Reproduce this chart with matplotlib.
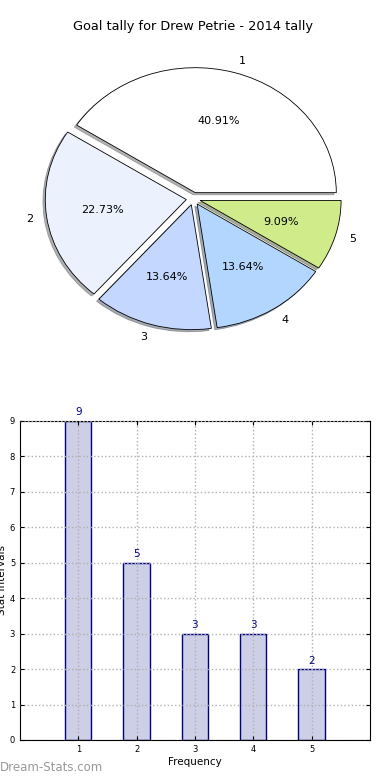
import matplotlib.pyplot as plt
import numpy as np

# data
labels = ['1', '2', '3', '4', '5']
goals = [9, 5, 3, 3, 2]
pie_colors = ['#ffffff', '#ebf2fe', '#c4d7fe', '#b3d6fe', '#cfeb8a']
explode = [0.05, 0.05, 0.05, 0.05, 0.05]

fig = plt.figure(figsize=(3.9, 7.8), dpi=100)

# pie on top (old-style, not forced circular)
ax1 = fig.add_axes([0.0436, 0.545, 0.904, 0.4006])
wedges, texts, autotexts = ax1.pie(goals, labels=labels, colors=pie_colors, explode=explode,
                                   autopct='%1.2f%%', startangle=0,
                                   shadow={'ox': -0.012, 'oy': -0.012, 'shade': 0.6},
                                   wedgeprops={'edgecolor': 'black', 'linewidth': 0.6},
                                   textprops={'fontsize': 8})
ax1.set_aspect('auto')
ax1.set_title('Goal tally for Drew Petrie - 2014 tally', fontsize=9.3, pad=9)

# bar chart below
ax2 = fig.add_axes([0.0513, 0.0513, 0.897, 0.409])
x = np.arange(1, len(goals) + 1)
bars = ax2.bar(x, goals, width=0.45, color='#cdcfe6', edgecolor='#000080', linewidth=1)
for xi, v in zip(x, goals):
    ax2.text(xi, v + 0.1, str(v), ha='center', va='bottom', color='#000080', fontsize=7.5)

ax2.set_xlim(0, 6)
ax2.set_ylim(0, 9)
ax2.set_xticks(x)
ax2.set_yticks(range(0, 10))
ax2.tick_params(direction='in', top=True, right=True, labelsize=6, length=3)
ax2.grid(True, linestyle=':', color='#b0b0b0', linewidth=1)
ax2.set_axisbelow(False)
ax2.set_xlabel('Frequency', fontsize=7.5, labelpad=2)
ax2.set_ylabel('Stat Intervals', fontsize=7.5, labelpad=2)

fig.text(0.0, 0.008, 'Dream-Stats.com', color='#999999', fontsize=8.5, ha='left', va='bottom')

plt.savefig('out.png', dpi=100)
